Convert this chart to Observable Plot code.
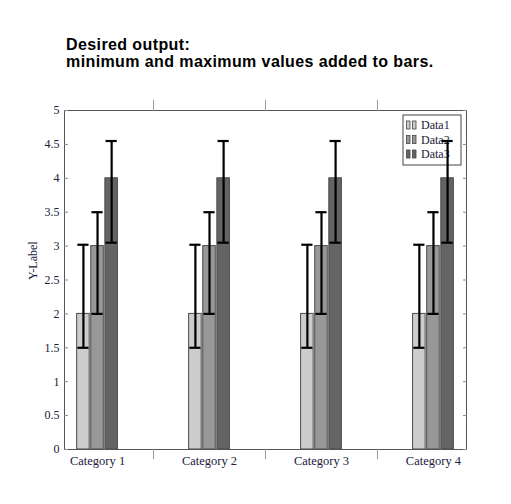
<!DOCTYPE html>
<html>
<head>
<meta charset="utf-8">
<script src="https://cdn.jsdelivr.net/npm/d3@7"></script>
<script src="https://cdn.jsdelivr.net/npm/@observablehq/plot@0.6"></script>
<style>
  body { margin: 0; background: white; }
  #title { height: 90px; box-sizing: border-box; padding: 36px 0 0 66px;
    font: bold 16px/17px "Liberation Sans", Arial, sans-serif; letter-spacing: 0.4px; color: #000; }
</style>
</head>
<body>
<div id="title">Desired output:<br>minimum and maximum values added to bars.</div>
<div id="chart"></div>
<script>
const categories = ['Category 1', 'Category 2', 'Category 3', 'Category 4']
const series = ['Data1', 'Data2', 'Data3']
const colors = ['#cccccc', '#989898', '#646464']

// mean, min and max per series, one entry per category
const data1 = [2, 2, 2, 2]
const data1Min = [1.5, 1.5, 1.5, 1.5]
const data1Max = [3.02, 3.02, 3.02, 3.02]
const data2 = [3, 3, 3, 3]
const data2Min = [2, 2, 2, 2]
const data2Max = [3.5, 3.5, 3.5, 3.5]
const data3 = [4, 4, 4, 4]
const data3Min = [3.05, 3.05, 3.05, 3.05]
const data3Max = [4.55, 4.55, 4.55, 4.55]

const yTicks = d3.range(0, 5.01, 0.5)

const values = [data1, data2, data3]
const mins = [data1Min, data2Min, data3Min]
const maxs = [data1Max, data2Max, data3Max]

const rows = []
series.forEach((s, j) => {
  categories.forEach((c, i) => {
    rows.push({pos: i + 1, j, series: s, value: values[j][i], min: mins[j][i], max: maxs[j][i]})
  })
})

// bar layout in x units (one unit = one category)
const step = 0.126, half = 0.056, cap = 0.05
const cx = d => d.pos + (d.j - 1) * step

const ink = '#20203a'
const chart = Plot.plot({
  width: 511,
  height: 414,
  marginTop: 20,
  marginBottom: 55,
  marginLeft: 64,
  marginRight: 45,
  style: {fontFamily: '"Liberation Serif", serif', fontSize: '12px', color: ink, background: 'transparent'},
  x: {domain: [0.705, 4.295], axis: null},
  y: {domain: [0, 5], axis: null},
  marks: [
    Plot.rect(rows, {
      x1: d => cx(d) - half, x2: d => cx(d) + half,
      y1: 0, y2: 'value',
      fill: d => colors[d.j], stroke: '#4a4a4a', strokeWidth: 1
    }),
    Plot.frame({stroke: '#555'}),
    Plot.axisY(yTicks, {anchor: 'left', tickSize: -4, tickPadding: 9, stroke: '#888',
      tickFormat: d => `${d}`, label: null, fontSize: 12}),
    Plot.text(['Y-Label'], {frameAnchor: 'left', dx: -31, rotate: -90, fontSize: 12, fill: ink}),
    Plot.axisY(yTicks, {anchor: 'right', tickSize: -4, stroke: '#888', tickFormat: () => '', label: null}),
    Plot.axisX([1, 2, 3, 4], {anchor: 'bottom', tickSize: 0, tickPadding: 7,
      tickFormat: i => categories[i - 1], label: null, fontSize: 12.5}),
    Plot.axisX([1.5, 2.5, 3.5], {anchor: 'bottom', tickSize: 10, stroke: '#999', tickFormat: () => '', label: null}),
    Plot.axisX([1.5, 2.5, 3.5], {anchor: 'top', tickSize: 11, stroke: '#999', tickFormat: () => '', label: null}),
    Plot.ruleX(rows, {x: cx, y1: 'min', y2: 'max', stroke: 'black', strokeWidth: 2.2}),
    Plot.ruleY(rows, {y: 'min', x1: d => cx(d) - cap, x2: d => cx(d) + cap, stroke: 'black', strokeWidth: 2.2}),
    Plot.ruleY(rows, {y: 'max', x1: d => cx(d) - cap, x2: d => cx(d) + cap, stroke: 'black', strokeWidth: 2.2})
  ]
})

// legend box, drawn under the error bars like the original
const svg = d3.select(chart)
const lw = 58, lh = 50
const lx = 511 - 45 - 5 - lw, ly = 20 + 5
const legend = svg.insert('g', "g[aria-label='rule']").attr('transform', `translate(${lx},${ly})`)
legend.append('rect').attr('width', lw).attr('height', lh).attr('fill', 'white').attr('stroke', '#444')
series.forEach((s, j) => {
  const row = legend.append('g').attr('transform', `translate(3,${10 + j * 14.5})`)
  ;[0, 6].forEach(off => {
    row.append('rect').attr('x', off + 0.5).attr('y', -4).attr('width', 3.5).attr('height', 8)
      .attr('fill', colors[j]).attr('stroke', '#444').attr('stroke-width', 0.8)
  })
  row.append('text').attr('x', 15).attr('dy', '0.35em').attr('fill', ink)
    .attr('text-anchor', 'start')
    .style('font', '12px "Liberation Serif", serif').text(s)
})

d3.select('#chart').append(() => chart)
</script>
</body>
</html>
